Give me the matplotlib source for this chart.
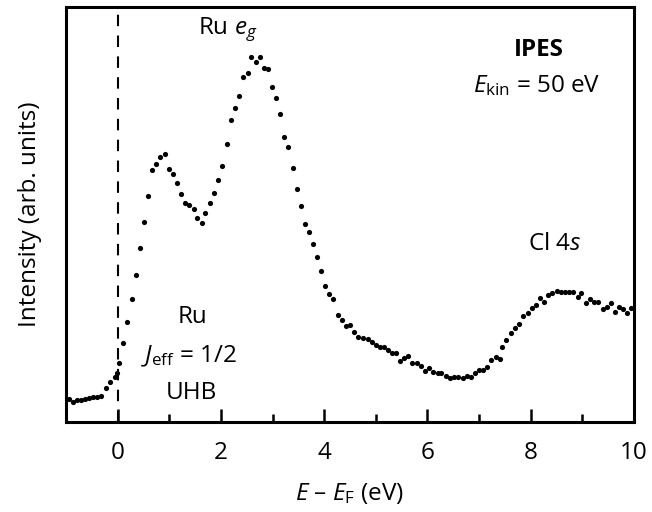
import numpy as np
import matplotlib.pyplot as plt
from matplotlib.ticker import MultipleLocator

plt.rcParams['font.family'] = ['Open Sans', 'DejaVu Sans']
plt.rcParams['mathtext.fontset'] = 'custom'
plt.rcParams['mathtext.rm'] = 'Open Sans'
plt.rcParams['mathtext.it'] = 'Open Sans:italic'
plt.rcParams['mathtext.bf'] = 'Open Sans:bold'

# IPES spectrum (intensity in arbitrary units)
energy = [
    -1.01, -0.94, -0.86, -0.78, -0.70, -0.63, -0.55, -0.47, -0.39, -0.32,
    -0.22, -0.15, -0.06, -0.02, 0.03, 0.11, 0.19, 0.27, 0.35, 0.43,
    0.51, 0.58, 0.66, 0.74, 0.83, 0.91, 0.99, 1.07, 1.15, 1.23,
    1.31, 1.39, 1.47, 1.54, 1.63, 1.70, 1.78, 1.86, 1.94, 2.03,
    2.11, 2.19, 2.27, 2.35, 2.42, 2.52, 2.58, 2.68, 2.76, 2.83,
    2.92, 2.99, 3.07, 3.14, 3.23, 3.30, 3.39, 3.47, 3.55, 3.63,
    3.71, 3.79, 3.87, 3.94, 4.02, 4.10, 4.18, 4.26, 4.34, 4.42,
    4.50, 4.58, 4.66, 4.76, 4.84, 4.92, 5.00, 5.08, 5.16, 5.24,
    5.32, 5.40, 5.47, 5.55, 5.63, 5.71, 5.79, 5.87, 5.95, 6.03,
    6.11, 6.20, 6.27, 6.36, 6.44, 6.52, 6.60, 6.68, 6.76, 6.84,
    6.92, 7.00, 7.08, 7.16, 7.24, 7.33, 7.40, 7.45, 7.53, 7.62,
    7.69, 7.78, 7.85, 7.94, 8.02, 8.10, 8.18, 8.26, 8.34, 8.42,
    8.50, 8.58, 8.66, 8.75, 8.82, 8.91, 8.98, 9.07, 9.15, 9.23,
    9.31, 9.39, 9.47, 9.55, 9.63, 9.71, 9.79, 9.87, 9.95,
]
intensity = [
    21, 23, 20, 22, 22, 23, 24, 25, 25, 26,
    34, 40, 45, 49, 59, 79, 100, 123, 147, 174,
    200, 226, 252, 258, 265, 268, 253, 248, 239, 228,
    219, 217, 213, 204, 199, 209, 219, 229, 242, 256,
    278, 302, 314, 326, 345, 349, 365, 360, 365, 354,
    353, 335, 324, 308, 285, 275, 254, 233, 216, 198,
    190, 178, 165, 151, 136, 128, 123, 107, 102, 96,
    97, 90, 85, 84, 83, 80, 77, 75, 75, 72,
    69, 69, 61, 64, 66, 59, 59, 56, 51, 54,
    50, 49, 49, 46, 44, 45, 45, 44, 46, 45,
    49, 52, 52, 55, 62, 65, 63, 75, 82, 89,
    94, 98, 106, 109, 114, 117, 124, 120, 127, 129,
    131, 130, 130, 130, 130, 125, 129, 119, 123, 120,
    120, 113, 115, 119, 110, 115, 113, 109, 114,
]

fig = plt.figure(figsize=(6.52, 5.12), dpi=100)
ax = fig.add_axes([0.1012, 0.1758, 0.8712, 0.8105])

ax.scatter(energy, intensity, s=14, color='black', zorder=3, linewidths=0)
ax.axvline(0, color='black', lw=1.5, ls=(0, (5.5, 4.5)), zorder=2)

fs = 17.5
ax.set_xlim(-1, 10)
ax.set_ylim(0, 415)
ax.xaxis.set_major_locator(MultipleLocator(2))
ax.xaxis.set_minor_locator(MultipleLocator(1))
ax.tick_params(axis='x', which='major', direction='in', length=9.5, width=1.8,
               labelsize=fs, pad=14)
ax.tick_params(axis='x', which='minor', direction='in', length=6, width=1.8)
ax.set_yticks([])
for s in ax.spines.values():
    s.set_linewidth(2.2)

ax.set_xlabel('$E$ – $E_{\\mathrm{F}}$ (eV)', fontsize=fs, labelpad=11)
ax.set_ylabel('Intensity (arb. units)', fontsize=fs, labelpad=17)

ax.text(2.14, 392, 'Ru $e_g$', ha='center', va='center', fontsize=fs)
ax.text(8.15, 372, 'IPES', ha='center', va='center', fontsize=fs, fontweight='bold')
ax.text(8.12, 336, '$E_{\\mathrm{kin}}$ = 50 eV', ha='center', va='center', fontsize=fs)
ax.text(8.47, 178, 'Cl 4$s$', ha='center', va='center', fontsize=fs)
ax.text(1.45, 105, 'Ru', ha='center', va='center', fontsize=fs)
ax.text(1.38, 66, '$J_{\\mathrm{eff}}$ = 1/2', ha='center', va='center', fontsize=fs)
ax.text(1.43, 29, 'UHB', ha='center', va='center', fontsize=fs)

plt.savefig('out.png', dpi=100)
